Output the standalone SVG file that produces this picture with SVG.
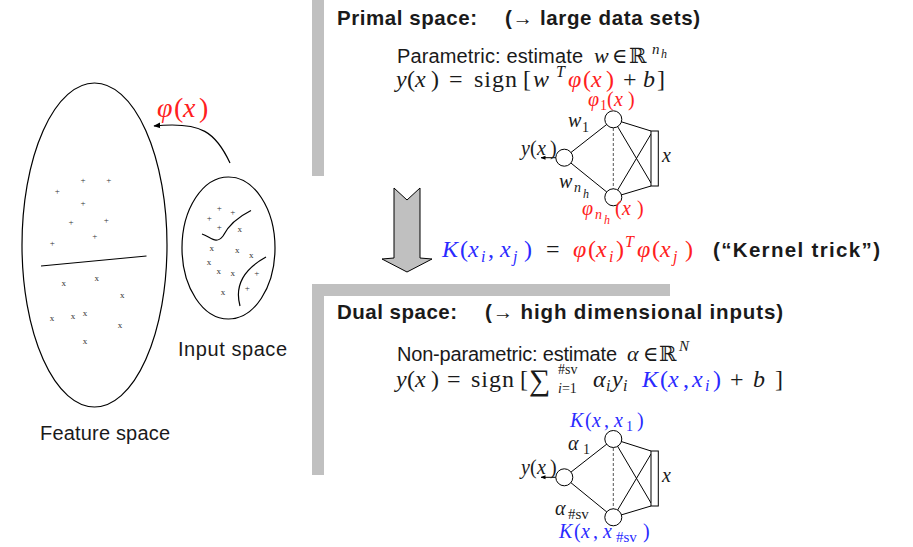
<svg xmlns="http://www.w3.org/2000/svg" width="913" height="547" viewBox="0 0 913 547">
<style>
.sans{font-family:"Liberation Sans",Arial,sans-serif;fill:#1a1a1a}
.hb{font-weight:bold;font-size:20.5px}
.s{font-size:20px}
.lbl{font-size:20px}
.m{font-family:"Liberation Serif","DejaVu Serif",serif;font-size:24px;fill:#1a1a1a}
.n{font-family:"Liberation Serif","DejaVu Serif",serif;font-size:20px;fill:#1a1a1a}
.i{font-style:italic}
.u{font-style:normal}
.msub{font-size:16px}
.nsub{font-size:14px}
.nss{font-size:12px}
.red{fill:#ff2020}
.blue{fill:#2a2aff}
.bb{font-family:"DejaVu Serif","DejaVu Sans",serif;font-size:21px;fill:#1a1a1a}
.mk{font-family:"Liberation Serif",serif;font-size:9px;fill:#333;text-anchor:middle}
.node{fill:#fff;stroke:#000;stroke-width:1}
.edge{stroke:#000;stroke-width:1;fill:none}
.dash{stroke:#555;stroke-width:1;stroke-dasharray:3 2}
.curve{stroke:#000;stroke-width:1.2;fill:none}
.panel{fill:#c0c0c0}
</style>
<defs>
<marker id="ah" viewBox="0 0 10 10" refX="9" refY="5" markerWidth="7" markerHeight="7" orient="auto" markerUnits="userSpaceOnUse">
<path d="M0,1 L10,5 L0,9 Z" fill="#000"/>
</marker>
<marker id="ahs" viewBox="0 0 10 10" refX="9" refY="5" markerWidth="5" markerHeight="5" orient="auto" markerUnits="userSpaceOnUse">
<path d="M0,1 L10,5 L0,9 Z" fill="#000"/>
</marker>
</defs>
<rect width="913" height="547" fill="#fff"/>

<g id="panels">
<rect class="panel" x="312" y="0" width="12" height="176"/>
<rect class="panel" x="312" y="284" width="358" height="12"/>
<rect class="panel" x="312" y="284" width="12" height="191"/>
<polygon id="down-arrow" points="394,188 407,200 420,188 420,258 432,259 407,272 382,259 394,258" fill="#c0c0c0" stroke="#000" stroke-width="1"/>
</g>

<g id="feature-space">
<ellipse cx="94.5" cy="245" rx="72.5" ry="162" class="curve"/>
<line x1="41" y1="266" x2="146.5" y2="256" class="curve"/>
<g class="mk">
<text x="83" y="183">+</text><text x="108.7" y="183">+</text><text x="57.3" y="194">+</text><text x="83" y="206">+</text>
<text x="71" y="225">+</text><text x="106.3" y="223">+</text><text x="94.7" y="239">+</text><text x="52.3" y="246">+</text>
<text x="63.7" y="286">x</text><text x="96.7" y="281">x</text><text x="122.3" y="298">x</text><text x="52" y="321">x</text>
<text x="73" y="319">x</text><text x="85" y="316">x</text><text x="120" y="328">x</text><text x="85" y="344">x</text>
</g>
<text class="sans lbl" x="40" y="440" textLength="130">Feature space</text>
</g>

<g id="input-space">
<ellipse cx="228.5" cy="248" rx="46.5" ry="71" class="curve"/>
<path class="curve" d="M202,234 C211,237 216,245 223,236 C229,224 238,217 251,210.5"/>
<path class="curve" d="M266,257 C246,268 234,284 240,306"/>
<g class="mk">
<text x="219.3" y="211">+</text><text x="232.7" y="215">+</text><text x="209.3" y="220.5">+</text><text x="219.3" y="230">+</text>
<text x="256.7" y="276">+</text><text x="247.3" y="291">+</text>
<text x="239.7" y="232">x</text><text x="211.7" y="250.5">x</text><text x="237.3" y="253">x</text><text x="251.3" y="258">x</text>
<text x="209" y="265">x</text><text x="218.7" y="274">x</text><text x="232.7" y="276">x</text><text x="223" y="295">x</text>
</g>
<text class="sans lbl" x="178" y="356" textLength="109">Input space</text>
</g>

<g id="phi-map">
<path class="curve" d="M230,163 C216,133 202,121 154,126" marker-end="url(#ah)"/>
<text class="m i red" y="117" style="font-size:28px"><tspan x="157">φ</tspan><tspan class="u" x="174">(</tspan><tspan x="183">x</tspan><tspan class="u" x="199">)</tspan></text>
</g>

<g id="primal-text">
<text class="sans hb" x="337" y="25" textLength="140">Primal space:</text>
<text class="sans hb" x="505" y="25" textLength="195">(→ large data sets)</text>
<text class="sans s" x="397" y="63" textLength="186">Parametric: estimate</text>
<text class="m i" x="594" y="63" style="font-size:22px">w</text>
<text class="m" x="612" y="63" style="font-size:21px">∈</text>
<text class="bb" x="629" y="63">ℝ</text>
<text class="m i" x="652" y="54" style="font-size:15px">n</text>
<text class="m i" x="661" y="58" style="font-size:12px">h</text>
<text class="m" y="87"><tspan class="i" x="396">y</tspan><tspan x="407">(</tspan><tspan class="i" x="415">x</tspan><tspan x="431">)</tspan><tspan x="449">=</tspan><tspan x="474" letter-spacing="1">sign</tspan><tspan x="523">[</tspan><tspan class="i" x="533">w</tspan><tspan class="i msub" x="556" y="77">T</tspan><tspan class="red i" x="568" y="87">φ</tspan><tspan class="red" x="583">(</tspan><tspan class="red i" x="591">x</tspan><tspan class="red" x="606">)</tspan><tspan x="623">+</tspan><tspan class="i" x="643">b</tspan><tspan x="657">]</tspan></text>
</g>

<g id="kernel-text">
<text class="m" y="257"><tspan class="blue i" x="442">K</tspan><tspan class="blue" x="460">(</tspan><tspan class="blue i" x="468">x</tspan><tspan class="blue i msub" x="481" y="262">i</tspan><tspan class="blue" x="488" y="257">,</tspan><tspan class="blue i" x="500">x</tspan><tspan class="blue i msub" x="513" y="262">j</tspan><tspan class="blue" x="524" y="257">)</tspan><tspan x="546">=</tspan><tspan class="red i" x="573">φ</tspan><tspan class="red" x="588">(</tspan><tspan class="red i" x="596">x</tspan><tspan class="red i msub" x="609" y="262">i</tspan><tspan class="red" x="616" y="257">)</tspan><tspan class="red i msub" x="625" y="247">T</tspan><tspan class="red i" x="637" y="257">φ</tspan><tspan class="red" x="652">(</tspan><tspan class="red i" x="660">x</tspan><tspan class="red i msub" x="673" y="262">j</tspan><tspan class="red" x="685" y="257">)</tspan></text>
<text class="sans hb" x="713" y="257" textLength="167">(“Kernel trick”)</text>
</g>

<g id="dual-text">
<text class="sans hb" x="337" y="319" textLength="120">Dual space:</text>
<text class="sans hb" x="485" y="319" textLength="298">(→ high dimensional inputs)</text>
<text class="sans s" x="397" y="361" textLength="220">Non-parametric: estimate</text>
<text class="m i" x="627" y="361" style="font-size:22px">α</text>
<text class="m" x="643" y="361" style="font-size:21px">∈</text>
<text class="bb" x="659" y="361">ℝ</text>
<text class="m i" x="679" y="351" style="font-size:15px">N</text>
<text class="m" y="387"><tspan class="i" x="396">y</tspan><tspan x="407">(</tspan><tspan class="i" x="415">x</tspan><tspan x="431">)</tspan><tspan x="447">=</tspan><tspan x="471" letter-spacing="1">sign</tspan><tspan x="520">[</tspan><tspan x="529" y="390" font-size="30">∑</tspan><tspan class="nsub" x="558" y="374">#sv</tspan><tspan class="nsub" x="558" y="393"><tspan class="i">i</tspan>=1</tspan><tspan class="i" x="593" y="387">α</tspan><tspan class="i msub" x="606" y="391">i</tspan><tspan class="i" x="612" y="387">y</tspan><tspan class="i msub" x="623" y="391">i</tspan><tspan class="blue i" x="642" y="387">K</tspan><tspan class="blue" x="660">(</tspan><tspan class="blue i" x="668">x</tspan><tspan class="blue" x="683">,</tspan><tspan class="blue i" x="692">x</tspan><tspan class="blue i msub" x="705" y="391">i</tspan><tspan class="blue" x="713" y="387">)</tspan><tspan x="730">+</tspan><tspan class="i" x="753">b</tspan><tspan x="775">]</tspan></text>
</g>

<g id="primal-connectors">
<line class="edge" x1="564.3" y1="157.7" x2="613.3" y2="119.3"/>
<line class="edge" x1="564.3" y1="157.7" x2="613.3" y2="197.3"/>
<line class="dash" x1="613.3" y1="128" x2="613.3" y2="189"/>
<line class="edge" x1="613.3" y1="119.3" x2="651" y2="131"/>
<line class="edge" x1="613.3" y1="119.3" x2="651" y2="183"/>
<line class="edge" x1="613.3" y1="197.3" x2="651" y2="186"/>
<line class="edge" x1="613.3" y1="197.3" x2="651" y2="134"/>
<line class="edge" x1="556" y1="157.7" x2="541" y2="157.7" marker-end="url(#ahs)"/>
</g>
<g id="p-out"><circle class="node" cx="564.3" cy="157.7" r="8.5"/></g>
<g id="p-h1"><circle class="node" cx="613.3" cy="119.3" r="8.5"/></g>
<g id="p-hn"><circle class="node" cx="613.3" cy="197.3" r="8.5"/></g>
<g id="p-x"><rect class="node" x="651" y="131" width="7.3" height="55"/></g>
<g id="primal-labels">
<text class="n i" y="155"><tspan x="521">y</tspan><tspan class="u" x="530">(</tspan><tspan x="537">x</tspan><tspan class="u" x="550">)</tspan></text>
<text class="n i" x="568" y="127">w<tspan class="nsub u" x="582" y="132">1</tspan></text>
<text class="n i" x="559" y="188">w<tspan class="nsub" x="574" y="192">n</tspan><tspan class="nss" x="583" y="198">h</tspan></text>
<text class="n i" x="662" y="162">x</text>
<text class="n i red" x="588" y="106">φ<tspan class="nsub u" x="600" y="110">1</tspan><tspan class="u" x="607" y="106">(</tspan><tspan x="614">x</tspan><tspan class="u" x="628">)</tspan></text>
<text class="n i red" x="582" y="215">φ<tspan class="nsub" x="595" y="219">n</tspan><tspan class="nss" x="604" y="224">h</tspan><tspan class="u" x="615" y="215">(</tspan><tspan x="622">x</tspan><tspan class="u" x="637">)</tspan></text>
</g>

<g id="dual-connectors">
<line class="edge" x1="564.3" y1="477.3" x2="613.3" y2="439"/>
<line class="edge" x1="564.3" y1="477.3" x2="613.3" y2="517.3"/>
<line class="dash" x1="613.3" y1="448" x2="613.3" y2="509"/>
<line class="edge" x1="613.3" y1="439" x2="651" y2="451"/>
<line class="edge" x1="613.3" y1="439" x2="651" y2="503"/>
<line class="edge" x1="613.3" y1="517.3" x2="651" y2="506"/>
<line class="edge" x1="613.3" y1="517.3" x2="651" y2="454"/>
<line class="edge" x1="556" y1="477.3" x2="541" y2="477.3" marker-end="url(#ahs)"/>
</g>
<g id="d-out"><circle class="node" cx="564.3" cy="477.3" r="8.5"/></g>
<g id="d-k1"><circle class="node" cx="613.3" cy="439" r="8.5"/></g>
<g id="d-kn"><circle class="node" cx="613.3" cy="517.3" r="8.5"/></g>
<g id="d-x"><rect class="node" x="651" y="451" width="7.3" height="55"/></g>
<g id="dual-labels">
<text class="n i" y="474"><tspan x="521">y</tspan><tspan class="u" x="530">(</tspan><tspan x="537">x</tspan><tspan class="u" x="550">)</tspan></text>
<text class="n i" x="568" y="450">α<tspan class="nsub u" x="583" y="454">1</tspan></text>
<text class="n i" x="555" y="515">α<tspan class="u" style="font-size:15px" x="568" y="519">#sv</tspan></text>
<text class="n i" x="662" y="482">x</text>
<text class="n i blue" y="427"><tspan x="570">K</tspan><tspan class="u" x="585">(</tspan><tspan x="592">x</tspan><tspan class="u" x="604">,</tspan><tspan x="614">x</tspan><tspan class="nsub u" x="626" y="431">1</tspan><tspan class="u" x="637" y="427">)</tspan></text>
<text class="n i blue" y="538"><tspan x="559">K</tspan><tspan class="u" x="574">(</tspan><tspan x="581">x</tspan><tspan class="u" x="593">,</tspan><tspan x="603">x</tspan><tspan class="u" style="font-size:15px" x="616" y="542">#sv</tspan><tspan class="u" x="643" y="538">)</tspan></text>
</g>
</svg>
